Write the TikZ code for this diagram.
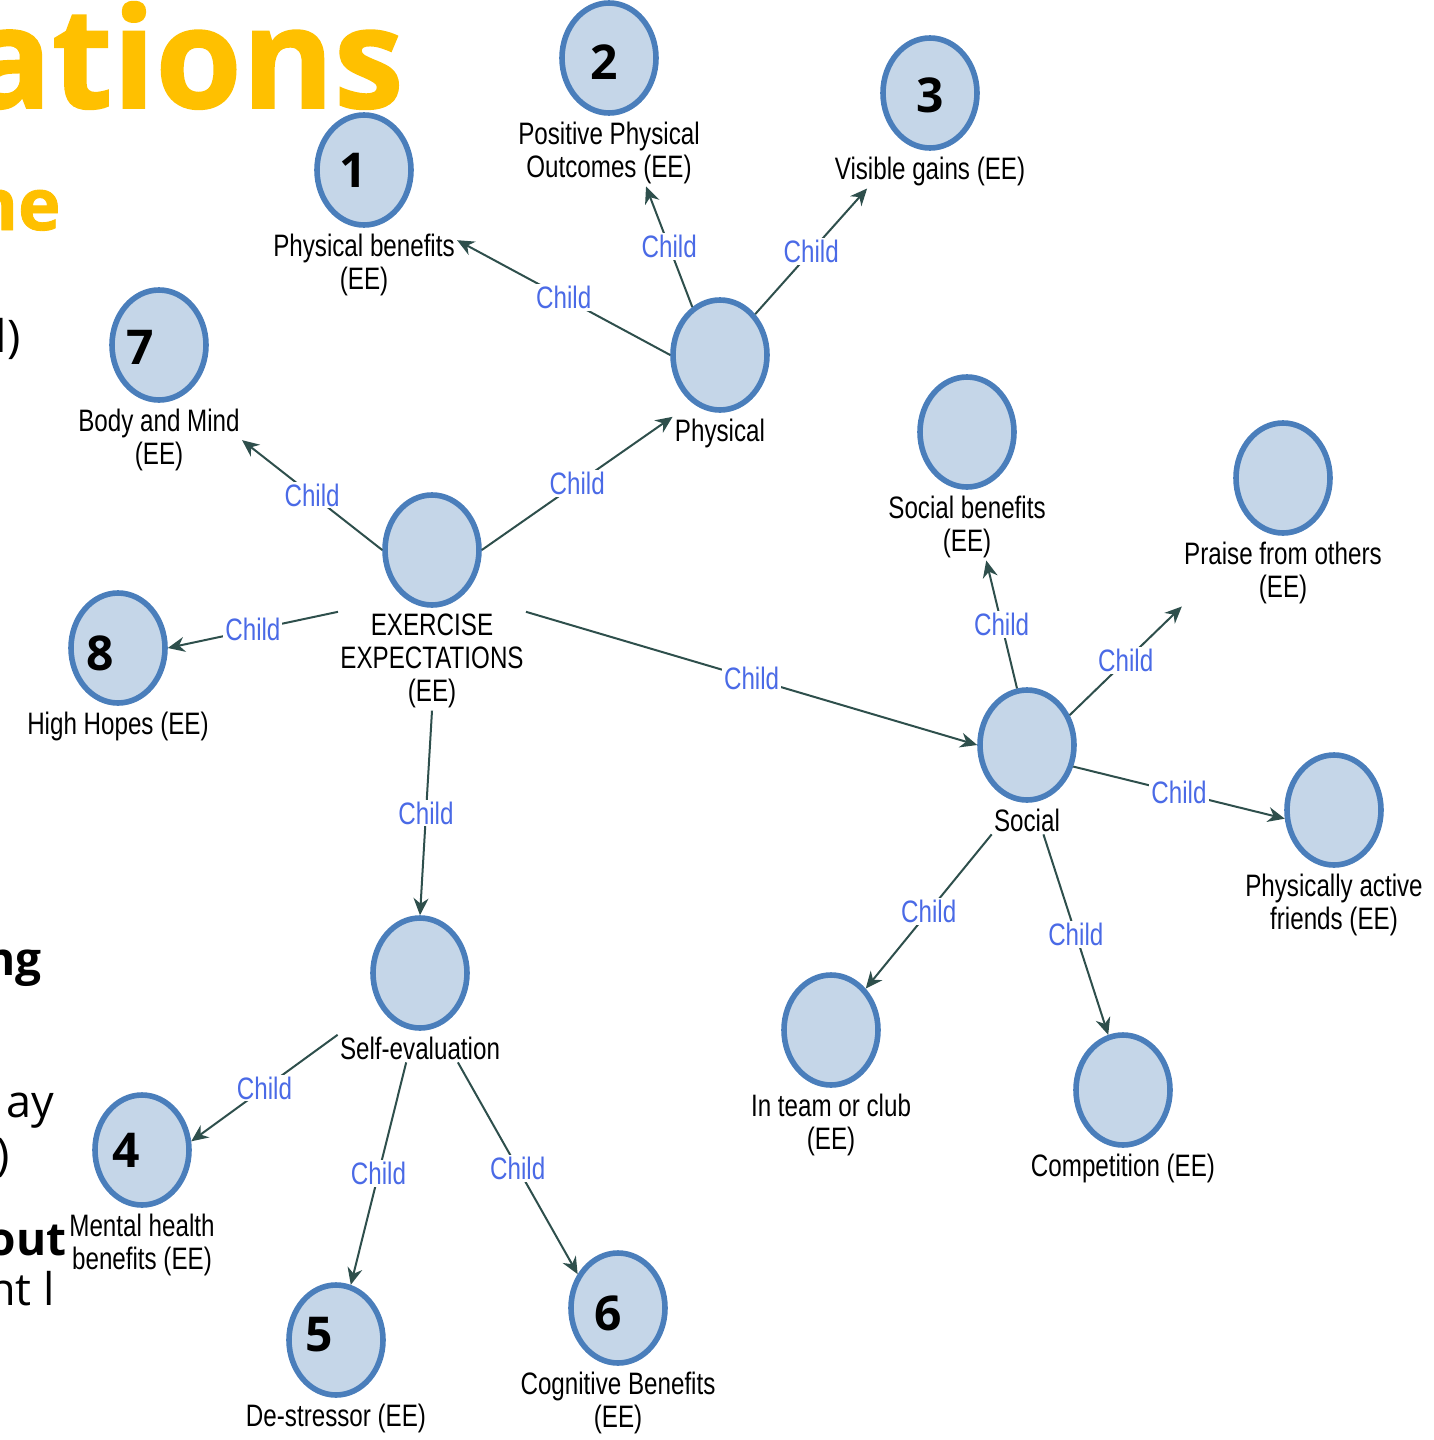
\documentclass[tikz,border=0pt]{standalone}
\usepackage{fontspec}
\setmainfont{Open Sans}
\newfontfamily\mapfont[FakeStretch=0.78]{Liberation Sans}
\newfontfamily\heavyfont[BoldFeatures={FakeBold=1.2}]{Open Sans}
\usetikzlibrary{arrows.meta,positioning,shapes.geometric}
\definecolor{ringblue}{HTML}{4A7EBB}
\definecolor{fillblue}{HTML}{C5D6E8}
\definecolor{edgegreen}{HTML}{2E4F4C}
\definecolor{childblue}{HTML}{4A6AE6}
\definecolor{slideyellow}{HTML}{FFC000}
\begin{document}
\begin{tikzpicture}[x=0.5pt,y=-0.5pt,
    concept/.style={ellipse,draw=ringblue,fill=fillblue,line width=2.8pt,
      minimum width=47pt,minimum height=55pt,inner sep=0pt},
    caption/.style={font=\mapfont\fontsize{15.5}{16.5}\selectfont,align=center,inner sep=1pt},
    num/.style={font=\bfseries\fontsize{24}{24}\selectfont,inner sep=0pt},
    rel/.style={font=\mapfont\fontsize{15.5}{16.5}\selectfont,text=childblue,fill=white,inner sep=1pt},
    slide/.style={anchor=base east,inner sep=0pt}]
  \useasboundingbox (0,0) rectangle (1434,1440);
  \clip (0,0) rectangle (1434,1440);
  \node[slide,text=slideyellow,font=\heavyfont\bfseries\fontsize{70}{70}\selectfont] (s1) at (404,108) {ations};
  \node[slide,text=slideyellow,font=\heavyfont\bfseries\fontsize{36}{36}\selectfont] (s2) at (61,230) {ne};
  \node[slide,font=\fontsize{22.5}{22.5}\selectfont] (s3) at (21,352) {l)};
  \node[slide,font=\bfseries\fontsize{23}{23}\selectfont] (s4) at (42,975) {ng};
  \node[slide,font=\fontsize{22.5}{22.5}\selectfont] (s5) at (55,1117) {ay};
  \node[slide,font=\fontsize{22.5}{22.5}\selectfont] (s6) at (10,1170) {)};
  \node[slide,font=\bfseries\fontsize{23}{23}\selectfont] (s7) at (67,1255) {out};
  \node[slide,font=\fontsize{22.5}{22.5}\selectfont] (s8) at (55,1305) {nt l};
  \draw
    (432,550) node[concept] (ee){}
    (720,355) node[concept] (phys){}
    (364,170) node[concept] (b1){}
    (609,58) node[concept] (b2){}
    (930,93) node[concept] (b3){}
    (159,345) node[concept] (b7){}
    (118,648) node[concept] (b8){}
    (1027,745) node[concept] (social){}
    (967,432) node[concept] (sb){}
    (1283,478) node[concept] (pr){}
    (1334,810) node[concept] (pa){}
    (831,1030) node[concept] (team){}
    (1123,1090) node[concept] (comp){}
    (420,973) node[concept] (self){}
    (142,1150) node[concept] (b4){}
    (336,1340) node[concept] (b5){}
    (618,1308) node[concept] (b6){};
  \node[caption,below=2pt of ee] (eet) {EXERCISE\\EXPECTATIONS\\(EE)};
  \node[caption,below=2pt of phys] (physt) {Physical};
  \node[caption,below=2pt of b1] (b1t) {Physical benefits\\(EE)};
  \node[caption,below=2pt of b2] (b2t) {Positive Physical\\Outcomes (EE)};
  \node[caption,below=2pt of b3] (b3t) {Visible gains (EE)};
  \node[caption,below=2pt of b7] (b7t) {Body and Mind\\(EE)};
  \node[caption,below=2pt of b8] (b8t) {High Hopes (EE)};
  \node[caption,below=2pt of social] (socialt) {Social};
  \node[caption,below=2pt of sb] (sbt) {Social benefits\\(EE)};
  \node[caption,below=2pt of pr] (prt) {Praise from others\\(EE)};
  \node[caption,below=2pt of pa] (pat) {Physically active\\friends (EE)};
  \node[caption,below=2pt of team] (teamt) {In team or club\\(EE)};
  \node[caption,below=2pt of comp] (compt) {Competition (EE)};
  \node[caption,below=2pt of self] (selft) {Self-evaluation};
  \node[caption,below=2pt of b4] (b4t) {Mental health\\benefits (EE)};
  \node[caption,below=2pt of b5] (b5t) {De-stressor (EE)};
  \node[caption,below=2pt of b6] (b6t) {Cognitive Benefits\\(EE)};
  \node[num] (n1) at (353,170) {1};
  \node[num] (n2) at (604,62) {2};
  \node[num] (n3) at (930,95) {3};
  \node[num] (n4) at (126,1150) {4};
  \node[num] (n5) at (319,1335) {5};
  \node[num] (n6) at (608,1313) {6};
  \node[num] (n7) at (140,347) {7};
  \node[num] (n8) at (100,653) {8};
  \begin{scope}[draw=edgegreen,line width=1pt,-{Stealth[length=8.5pt,width=7.5pt]}]
    \draw (ee.east) to node[rel]{Child} (physt.north west);
    \draw (ee.west) to node[rel]{Child} (b7t.east);
    \draw (eet.north west) to node[rel]{Child} (b8.east);
    \draw (eet.north east) to node[rel]{Child} (social.west);
    \draw (eet.south) to node[rel]{Child} (self.north);
    \draw (phys.west) to node[rel]{Child} (b1t.15);
    \draw (phys.120) to node[rel]{Child} (b2t.-42);
    \draw (phys.north east) to node[rel]{Child} (b3t.-165);
    \draw (social.100) to node[rel]{Child} (sbt.-60);
    \draw (social.35) to node[rel]{Child} (prt.south west);
    \draw (social.-25) to node[rel]{Child} (pa.190);
    \draw (socialt.south west) to node[rel]{Child} (team.50);
    \draw (socialt.-40) to node[rel]{Child} (comp.105);
    \draw (selft.north west) to node[rel]{Child} (b4.10);
    \draw (selft.-135) to node[rel]{Child} (b5.75);
    \draw (selft.-20) to node[rel]{Child} (b6.140);
  \end{scope}
\end{tikzpicture}
\end{document}
